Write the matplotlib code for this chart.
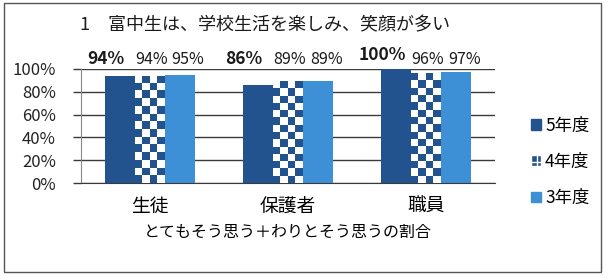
import numpy as np
import matplotlib
matplotlib.use('Agg')
import matplotlib.pyplot as plt
import matplotlib.patches as mpatches
from matplotlib.colors import ListedColormap

plt.rcParams['font.family'] = ['Noto Sans CJK JP', 'DejaVu Sans']

# データ
categories = ['生徒', '保護者', '職員']
series_names = ['5年度', '4年度', '3年度']
vals_r5 = [0.94, 0.86, 1.00]
vals_r4 = [0.94, 0.89, 0.96]
vals_r3 = [0.95, 0.89, 0.97]
yticks = [0, 0.2, 0.4, 0.6, 0.8, 1.0]
ytick_labels = ['0%', '20%', '40%', '60%', '80%', '100%']
title = '1\u3000富中生は、学校生活を楽しみ、笑顔が多い'
xlabel = 'とてもそう思う＋わりとそう思うの割合'

DARK = '#22538e'
LIGHT = '#3d8fd6'
GRID = '#3a3a3a'

fig = plt.figure(figsize=(6.08, 2.79), dpi=100)
fig.patch.set_facecolor('white')
ax = fig.add_axes([0.133, 0.344, 0.681, 0.409])

x = np.arange(len(categories))
w = 0.217

# グリッド
ax.set_ylim(0, 1.0)
ax.set_xlim(-0.5, len(categories) - 0.5)
for yv in yticks:
    ax.axhline(yv, color=GRID, linewidth=1.0, zorder=1)

# 5年度
ax.bar(x - w, vals_r5, width=w, color=DARK, zorder=2, clip_on=False)
# 3年度
ax.bar(x + w, vals_r3, width=w, color=LIGHT, zorder=2, clip_on=False)
# 4年度 (市松模様)
checker_cmap = ListedColormap([DARK, 'white'])
bars4 = ax.bar(x, vals_r4, width=w, color=DARK, zorder=2)
for b, v in zip(bars4, vals_r4):
    cols = 4
    rows = int(round(v * 114 / 7.5))
    grid = (np.add.outer(np.arange(rows), np.arange(cols)) % 2).astype(float)
    im = ax.imshow(grid, cmap=checker_cmap, extent=(b.get_x(), b.get_x() + w, 0, v),
                   aspect='auto', interpolation='nearest', zorder=3, origin='lower')
    im.set_clip_path(b)

# ラベル
for xi, v in zip(x - w, vals_r5):
    ax.text(xi - 0.1, max(v, 0.97) + 0.04, f'{v:.0%}', ha='center', va='bottom',
            fontsize=12.5, fontweight='bold', color='#1a1a1a')
for xi, v in zip(x, vals_r4):
    ax.text(xi + 0.01, max(v, 0.97) + 0.04, f'{v:.0%}', ha='center', va='bottom',
            fontsize=11.5, color='#1a1a1a')
for xi, v in zip(x + w, vals_r3):
    ax.text(xi + 0.06, max(v, 0.97) + 0.04, f'{v:.0%}', ha='center', va='bottom',
            fontsize=11.5, color='#1a1a1a')

ax.set_yticks(yticks)
ax.set_yticklabels(ytick_labels, fontsize=12, color='#222222')
ax.tick_params(axis='y', length=6, width=1, color=GRID, pad=12)
ax.set_xticks(x)
ax.set_xticklabels(categories, fontsize=13.5)
ax.tick_params(axis='x', length=0, pad=9)
ax.set_xlabel(xlabel, fontsize=11.5, labelpad=5)

for side in ['top', 'right']:
    ax.spines[side].set_visible(False)
ax.spines['left'].set_color('#888888')
ax.spines['bottom'].set_color(GRID)

fig.text(0.132, 0.91, title, fontsize=13, ha='left', va='center', color='#1a1a1a')

# 凡例
handles = [
    mpatches.Patch(facecolor=DARK, edgecolor=DARK),
    mpatches.Patch(facecolor=DARK, edgecolor='white', hatch='++'),
    mpatches.Patch(facecolor=LIGHT, edgecolor=LIGHT),
]
fig.legend(handles, series_names, loc='center left', bbox_to_anchor=(0.848, 0.42),
           frameon=False, fontsize=12.5, handlelength=0.55, handleheight=0.55,
           handletextpad=0.25, labelspacing=1.05)

# 外枠
fig.add_artist(mpatches.Rectangle((0.007, 0.025), 0.982, 0.965, transform=fig.transFigure,
                                  fill=False, edgecolor='#555555', linewidth=1.0))

fig.savefig('out.png', dpi=100)
